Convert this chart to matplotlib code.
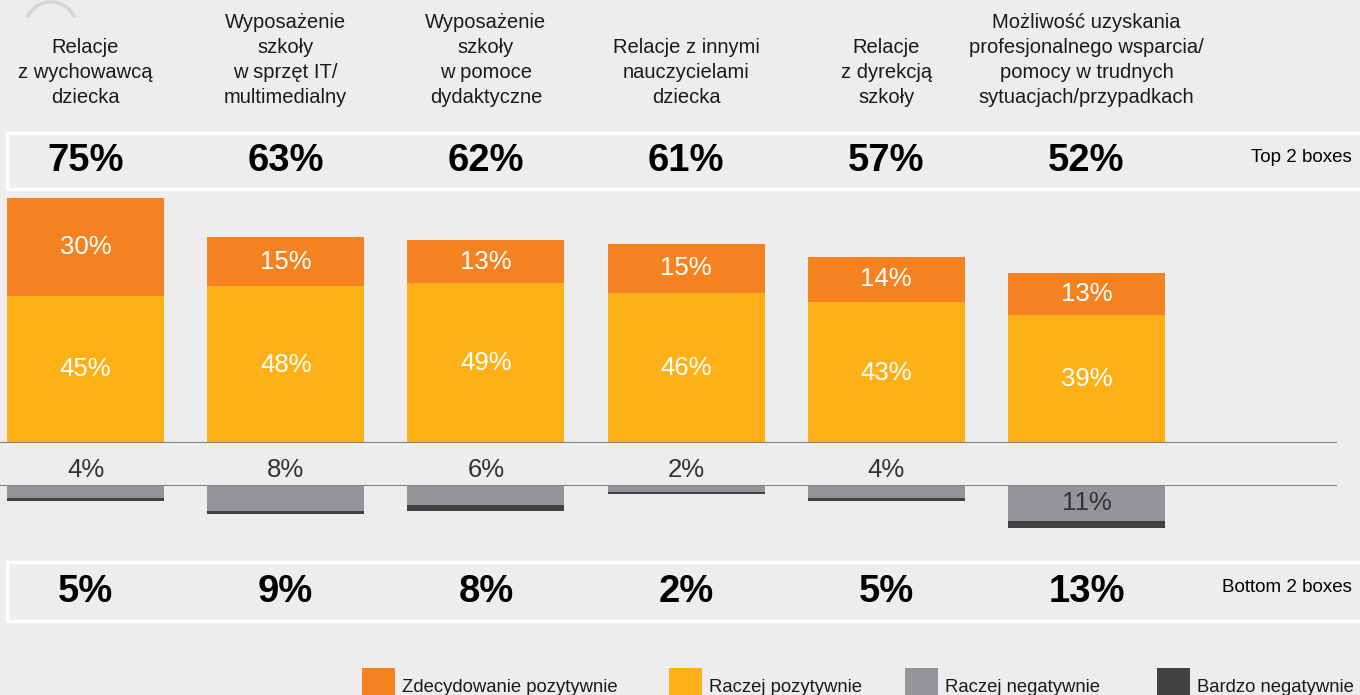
import matplotlib
matplotlib.use("Agg")
import matplotlib.pyplot as plt
from matplotlib.patches import Rectangle, Arc
from matplotlib.transforms import blended_transform_factory

plt.rcParams['font.family'] = ['Liberation Sans', 'DejaVu Sans']

# Dane
categories = [
    "Relacje\nz wychowawcą\ndziecka",
    "Wyposażenie\nszkoły\nw sprzęt IT/\nmultimedialny",
    "Wyposażenie\nszkoły\nw pomoce\ndydaktyczne",
    "Relacje z innymi\nnauczycielami\ndziecka",
    "Relacje\nz dyrekcją\nszkoły",
    "Możliwość uzyskania\nprofesjonalnego wsparcia/\npomocy w trudnych\nsytuacjach/przypadkach",
]
zdecydowanie_poz = [30, 15, 13, 15, 14, 13]
raczej_poz = [45, 48, 49, 46, 43, 39]
raczej_neg = [4, 8, 6, 2, 4, 11]
bardzo_neg = [1, 1, 2, 0.8, 1, 2]
top2 = [75, 63, 62, 61, 57, 52]
bottom2 = [5, 9, 8, 2, 5, 13]
series_names = ["Zdecydowanie pozytywnie", "Raczej pozytywnie",
                "Raczej negatywnie", "Bardzo negatywnie"]

# Kolory
C_ORANGE = "#F58220"
C_YELLOW = "#FDB018"
C_GRAY = "#949598"
C_DARK = "#414042"
BG = "#EDEDED"
colors = [C_ORANGE, C_YELLOW, C_GRAY, C_DARK]

W, H = 1360, 695
PX_PER_PCT = 3.27


def fx(px):
    return px / W


def fy(px):
    return 1 - px / H


def main():

    fig = plt.figure(figsize=(W / 100, H / 100), dpi=100)
    fig.patch.set_facecolor(BG)

    x = list(range(len(categories)))
    unit = 200.2
    xlim = (-85.5 / unit, (1337 - 85.5) / unit)
    width = 157 / unit

    # Eixo positivo
    ax_pos = fig.add_axes([0, fy(443), 1337 / W, (443 - 190) / H])
    ax_pos.set_xlim(*xlim)
    ax_pos.set_ylim(0, (443 - 190) / PX_PER_PCT)
    ax_pos.axis("off")

    ax_pos.bar(x, raczej_poz, width=width, color=C_YELLOW)
    ax_pos.bar(x, zdecydowanie_poz, width=width, bottom=raczej_poz,
               color=C_ORANGE)
    ax_pos.axhline(0, color="#808080", lw=1.5, zorder=3)

    for i in x:
        ax_pos.text(i, raczej_poz[i] / 2, f"{raczej_poz[i]}%",
                    ha="center", va="center", color="white", fontsize=18.5)
        ax_pos.text(i, raczej_poz[i] + zdecydowanie_poz[i] / 2,
                    f"{zdecydowanie_poz[i]}%",
                    ha="center", va="center", color="white", fontsize=18.5)

    # Eixo negativo
    ax_neg = fig.add_axes([0, fy(540), 1337 / W, (540 - 485) / H])
    ax_neg.set_xlim(*xlim)
    ax_neg.set_ylim(-(540 - 485) / PX_PER_PCT, 0)
    ax_neg.axis("off")

    neg1 = [-v for v in raczej_neg]
    neg2 = [-v for v in bardzo_neg]
    ax_neg.bar(x, neg1, width=width, color=C_GRAY)
    ax_neg.bar(x, neg2, width=width, bottom=neg1, color=C_DARK)
    ax_neg.axhline(0, color="#808080", lw=1.5, zorder=3)

    for i in x:
        if raczej_neg[i] >= 10:
            ax_neg.text(i, -raczej_neg[i] / 2, f"{raczej_neg[i]}%",
                        ha="center", va="center", color="#333333",
                        fontsize=18.5)
        else:
            ax_neg.text(i, 0.9, f"{raczej_neg[i]}%", ha="center",
                        va="bottom", color="#333333", fontsize=18.5,
                        clip_on=False)

    # Ramki Top/Bottom 2 boxes
    for top, bot in [(133, 189), (562, 621)]:
        fig.patches.append(Rectangle(
            (fx(7), fy(bot)), fx(1400), (bot - top) / H,
            transform=fig.transFigure, facecolor="none",
            edgecolor="white", lw=2.5))

    tr = blended_transform_factory(ax_pos.transData, fig.transFigure)
    for i in x:
        ax_pos.text(i, fy(161), f"{top2[i]}%", transform=tr,
                    ha="center", va="center", fontsize=27.5,
                    fontweight="bold", color="black")
        ax_pos.text(i, fy(592), f"{bottom2[i]}%", transform=tr,
                    ha="center", va="center", fontsize=27.5,
                    fontweight="bold", color="black")

        # Etykiety kategorii, linia po linii
        lines = categories[i].split("\n")
        n = len(lines)
        for j, line in enumerate(lines):
            base = 103 - 25 * (n - 1 - j)
            ax_pos.text(i, fy(base), line, transform=tr, ha="center",
                        va="baseline", fontsize=14.5, color="#1a1a1a")

    fig.text(fx(1352), fy(158), "Top 2 boxes", ha="right", va="center",
             fontsize=13.5, color="black")
    fig.text(fx(1352), fy(588), "Bottom 2 boxes", ha="right",
             va="center", fontsize=13.5, color="black")

    # Legenda
    leg_x = [362, 669, 905, 1157]
    for lx, name, c in zip(leg_x, series_names, colors):
        fig.patches.append(Rectangle(
            (fx(lx), fy(700)), fx(33), (700 - 668) / H,
            transform=fig.transFigure, facecolor=c, edgecolor="none"))
        fig.text(fx(lx + 40), fy(692), name, ha="left", va="baseline",
                 fontsize=13.3, color="#1a1a1a")

    # Ozdobny luk w rogu
    fig.patches.append(Arc(
        (fx(51), fy(28)), fx(52), 52 / H, theta1=40, theta2=140,
        transform=fig.transFigure, color="#d6d6d6", lw=2.5))

    fig.savefig("out.png", dpi=100, facecolor=BG)


if __name__ == "__main__":
    main()
